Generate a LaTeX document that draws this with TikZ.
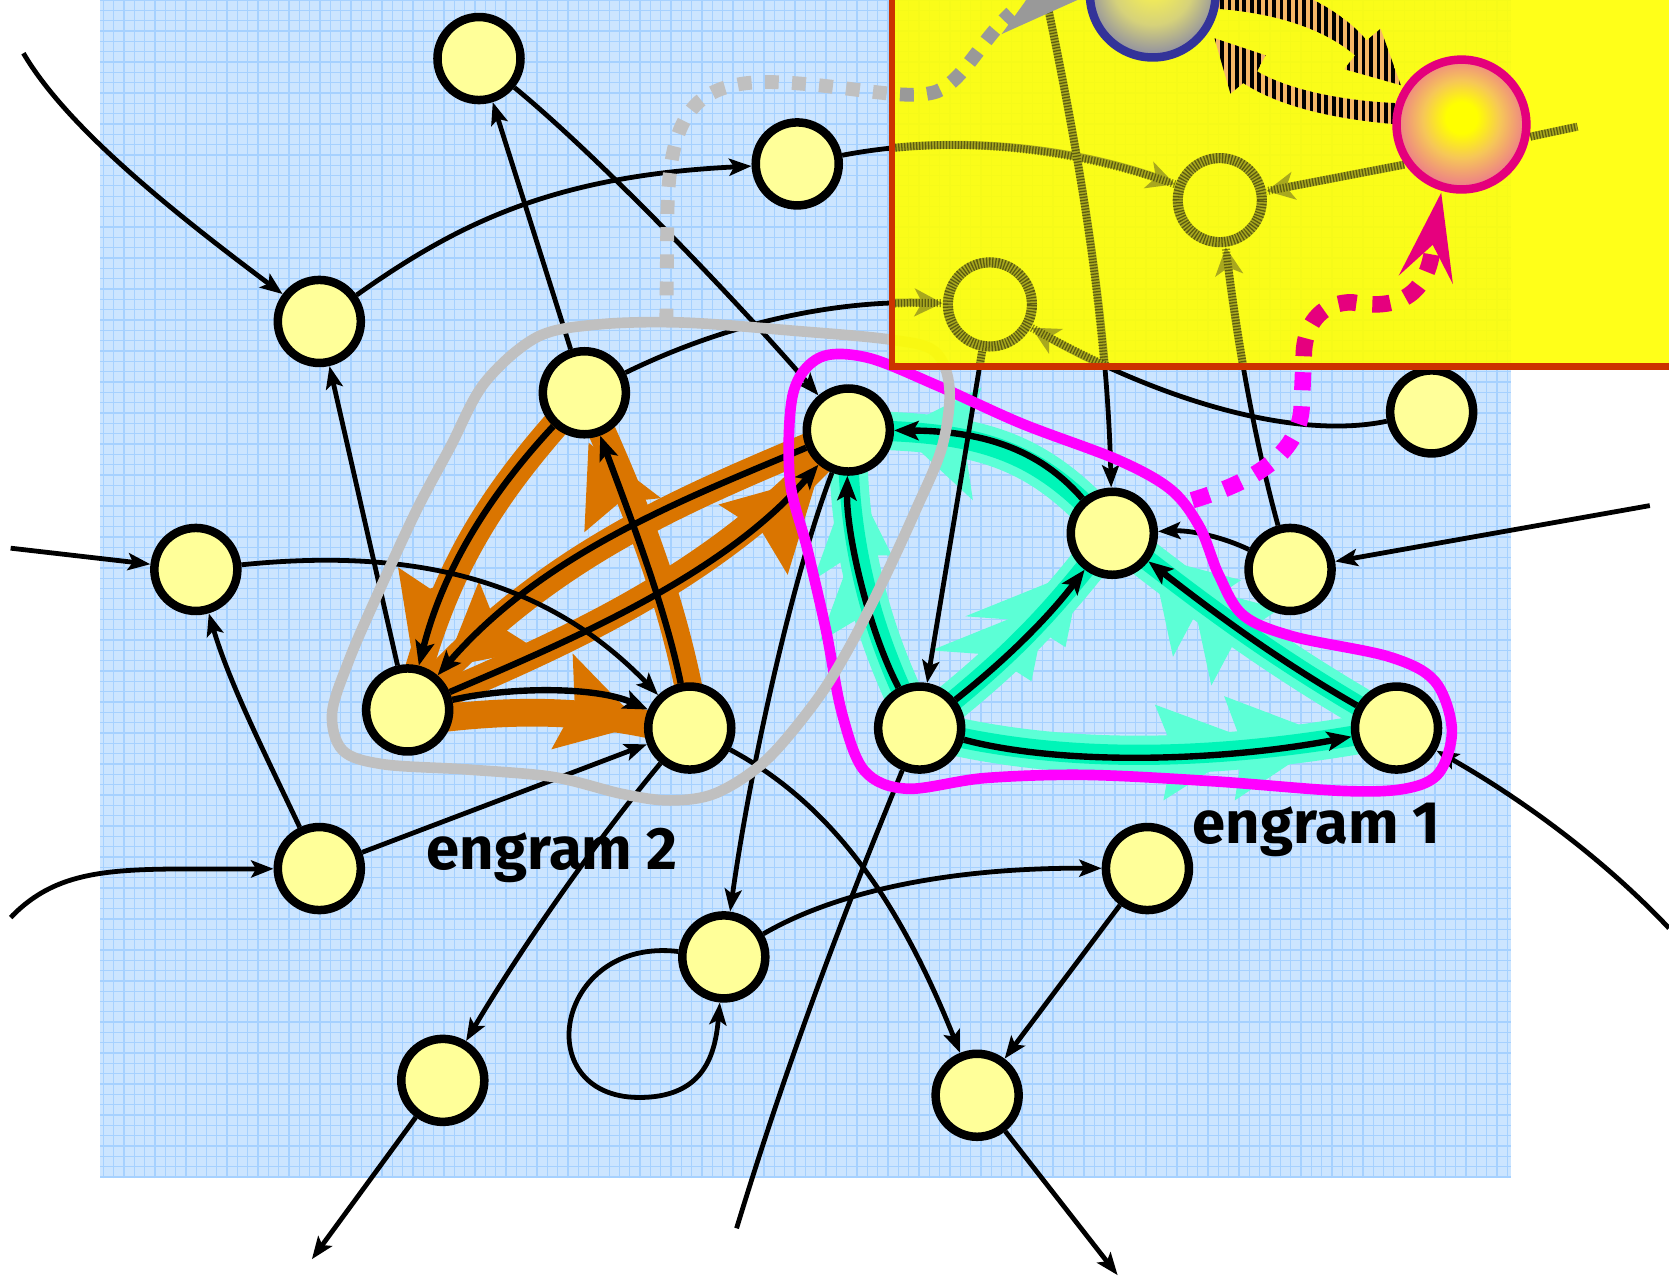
\documentclass[tikz,border=0pt]{standalone}
\usepackage{fontspec}
\newfontfamily\englabel{Fira Sans}
\usetikzlibrary{arrows.meta,patterns.meta}

\definecolor{bgblue}{HTML}{CCE5FF}
\definecolor{gridblue}{HTML}{A6D1FF}
\definecolor{cellY}{HTML}{FFFF99}
\definecolor{bandO}{HTML}{DA7500}
\definecolor{tealL}{HTML}{5CFFD6}
\definecolor{tealD}{HTML}{00F5B8}
\definecolor{loopM}{HTML}{FF00FF}
\definecolor{loopG}{HTML}{C0C0C0}
\definecolor{dashG}{HTML}{999999}
\definecolor{dashP}{HTML}{E6007E}
\definecolor{panelY}{HTML}{FFFF00}
\definecolor{panelR}{HTML}{CC3300}
\definecolor{fadeO}{HTML}{A8A81E}
\definecolor{stripeO}{HTML}{F5B767}
\definecolor{sphB}{HTML}{333399}
\definecolor{sphBm}{HTML}{8888A6}
\definecolor{sphBy}{HTML}{D6D27A}
\definecolor{sphY}{HTML}{F4EE55}
\definecolor{sphP}{HTML}{E4007C}
\definecolor{sphPm}{HTML}{EA6A96}
\definecolor{sphPy}{HTML}{F6C658}

\pgfdeclareradialshading{bluesph}{\pgfpoint{0bp}{6bp}}{color(0bp)=(sphY); color(5bp)=(sphY); color(16bp)=(sphBy); color(28bp)=(sphBm); color(38bp)=(sphB); color(50bp)=(sphB)}
\pgfdeclareradialshading{pinksph}{\pgfpoint{0bp}{3bp}}{color(0bp)=(panelY); color(6bp)=(panelY); color(15bp)=(sphPy); color(28bp)=(sphPm); color(40bp)=(sphP); color(50bp)=(sphP)}

\pgfdeclarelayer{back}
\pgfdeclarelayer{bands}
\pgfdeclarelayer{edges}
\pgfsetlayers{back,bands,edges,main}

\tikzset{
  neuron/.style={circle, draw=black, line width=0.8mm, fill=cellY, minimum size=7.8mm, inner sep=0pt},
  ghost/.style={circle, minimum size=8.8mm, inner sep=0pt},
  ax/.style={line width=0.45mm, -{Stealth[length=2.1mm,width=1.6mm,inset=0.45mm]}},
  eax/.style={line width=0.6mm, -{Stealth[length=2.3mm,width=1.8mm,inset=0.5mm]}},
  oband/.style={draw=bandO, line width=2.6mm},
  ohead/.style={fill=bandO},
  tbandL/.style={draw=tealL, line width=3.6mm},
  tbandD/.style={draw=tealD, line width=1.9mm},
  thead/.style={fill=tealL},
  fadedln/.style={line width=0.75mm, draw=fadeO, -{Stealth[length=2.6mm,width=2.6mm,inset=0.7mm]},
      postaction={draw=black, opacity=0.45, dash pattern=on 0.12mm off 0.16mm, arrows=-}},
  fadedring/.style={draw=fadeO, line width=0.95mm, postaction={draw=black, opacity=0.45, dash pattern=on 0.12mm off 0.16mm}},
  grayline/.style={line width=1.3mm, dash pattern=on 1.3mm off 1.25mm},
  pinkline/.style={line width=1.55mm, dash pattern=on 1.7mm off 1.5mm},
  stripes/.style={fill=stripeO, postaction={pattern={Lines[angle=90,distance=0.7mm,line width=0.34mm]}, pattern color=black}},
  loopline/.style={line width=1mm, line join=round},
  lbl/.style={font=\englabel\bfseries\fontsize{16}{18}\selectfont, anchor=base west, inner sep=0pt},
}

\begin{document}
\begin{tikzpicture}[x=0.1mm, y=-0.1mm]
\useasboundingbox (0,0) rectangle (1568,1200);

% ---- squared paper background ----
\begin{pgfonlayer}{back}
  \fill[white] (0,0) rectangle (1568,1200);
  \fill[bgblue] (94,0) rectangle (1420,1107);
  \draw[gridblue, line width=0.35pt, step=0.97mm] (94,0) grid (1420,1107);
\end{pgfonlayer}

% ---- neurons ----
\node[neuron] (n1)  at (450,55)   {};
\node[neuron] (n2)  at (749,154)  {};
\node[neuron] (n3)  at (300,302)  {};
\node[neuron] (n4)  at (549,369)  {};
\node[neuron] (n5)  at (797,404)  {};
\node[neuron] (n6)  at (1345,387) {};
\node[neuron] (n7)  at (184,535)  {};
\node[neuron] (n8)  at (1045,501) {};
\node[neuron] (n9)  at (1212,535) {};
\node[neuron] (n10) at (383,667)  {};
\node[neuron] (n11) at (648,684)  {};
\node[neuron] (n12) at (864,684)  {};
\node[neuron] (n13) at (1312,684) {};
\node[neuron] (n14) at (300,816)  {};
\node[neuron] (n15) at (1078,816) {};
\node[neuron] (n16) at (680,899)  {};
\node[neuron] (n17) at (416,1015) {};
\node[neuron] (n18) at (918,1029) {};

% cells of the magnified panel (drawn later, over the panel)
\node[ghost] (fn1) at (930,286) {};
\node[ghost] (fn2) at (1146,188) {};
\node[circle, minimum size=12.6mm, inner sep=0pt] (bs) at (1083,-5) {};
\node[circle, minimum size=13mm, inner sep=0pt] (ps) at (1373,117) {};

% free ends of axons
\coordinate (in1) at (22,50);
\coordinate (in2) at (10,515);
\coordinate (in3) at (10,862);
\coordinate (in4) at (1550,475);
\coordinate (in5) at (1568,872);
\coordinate (out1) at (293,1183);
\coordinate (out2) at (1050,1198);
\coordinate (out3) at (692,1154);
\coordinate (top1) at (982,-5);
\coordinate (pso) at (1482,119);
\coordinate (e1p) at (1120,470);
\coordinate (e2p) at (626,303);

% ---- engram highlight bands ----
\begin{pgfonlayer}{bands}
  % engram 2 (orange)
  \draw[oband] (n4.center) .. controls (455,470) and (415,540) .. (n10.center);
  \draw[oband] ([xshift=0.6mm]n11.center) .. controls (635,570) and (600,480) .. (n4.center);
  \draw[oband] (n5.center) .. controls (640,470) and (510,520) .. (n10.center);
  \draw[oband] (n10.center) .. controls (540,600) and (680,540) .. (n5.center);
  \draw[oband] ([yshift=-1.2mm]n10.center) .. controls (480,665) and (560,665) .. ([yshift=-0.6mm]n11.center);
  \fill[ohead] (388,620) -- (374,533) -- (404,553) -- (440,541) -- cycle;
  \fill[ohead] (553,416) -- (621,468) -- (582,472) -- (549,500) -- cycle;
  \fill[ohead] (418,627) -- (450,546) -- (466,586) -- (504,610) -- cycle;
  \fill[ohead] (768,448) -- (740,540) -- (716,500) -- (675,474) -- cycle;
  \fill[ohead] (603,681) -- (518,704) -- (540,664) -- (538,614) -- cycle;
  % engram 1 (teal)
  \draw[tbandL] (n12.center) .. controls (815,590) and (795,500) .. (n5.center);
  \draw[tbandL] (n8.center) .. controls (975,420) and (920,405) .. (n5.center);
  \draw[tbandL] (n12.center) .. controls (945,620) and (985,580) .. (n8.center);
  \draw[tbandL] (n13.center) .. controls (1200,620) and (1140,575) .. (n8.center);
  \draw[tbandL] (n12.center) .. controls (1000,720) and (1150,715) .. (n13.center);
  \fill[thead] (800,446) -- (838,522) -- (801,521) -- (764,545) -- cycle;
  \fill[thead] (806,505) -- (840,585) -- (805,582) -- (770,603) -- cycle;
  \fill[thead] (843,404) -- (922,364) -- (906,416) -- (914,470) -- cycle;
  \fill[thead] (1016,535) -- (1001,608) -- (962,583) -- (907,579) -- cycle;
  \fill[thead] (984,567) -- (969,640) -- (930,615) -- (875,611) -- cycle;
  \fill[thead] (1082,523) -- (1166,545) -- (1126,572) -- (1102,617) -- cycle;
  \fill[thead] (1118,550) -- (1202,572) -- (1162,599) -- (1138,644) -- cycle;
  \fill[thead] (1250,692) -- (1150,654) -- (1168,702) -- (1160,752) -- cycle;
  \fill[thead] (1180,697) -- (1085,662) -- (1102,704) -- (1093,752) -- cycle;
  \draw[tbandD] (n12.center) .. controls (815,590) and (795,500) .. (n5.center);
  \draw[tbandD] (n8.center) .. controls (975,420) and (920,405) .. (n5.center);
  \draw[tbandD] (n12.center) .. controls (945,620) and (985,580) .. (n8.center);
  \draw[tbandD] (n13.center) .. controls (1200,620) and (1140,575) .. (n8.center);
  \draw[tbandD] (n12.center) .. controls (1000,720) and (1150,715) .. (n13.center);
\end{pgfonlayer}

% ---- axons ----
\begin{pgfonlayer}{edges}
  \draw[ax] (in1) .. controls (60,115) and (150,190) .. (n3);
  \draw[ax] (n3) .. controls (430,210) and (520,165) .. (n2);
  \draw[ax] (n2) .. controls (900,125) and (1010,140) .. (fn2);
  \draw[ax] (n4) -- (n1);
  \draw[ax] (n1) .. controls (560,145) and (690,280) .. (n5);
  \draw[ax] (n4) .. controls (680,305) and (780,282) .. (fn1);
  \draw[ax] (n10) -- (n3);
  \draw[ax] (in2) -- (n7);
  \draw[ax] (n7) .. controls (380,515) and (510,540) .. (n11);
  \draw[ax] (n14) .. controls (245,700) and (215,640) .. (n7);
  \draw[ax] (in3) .. controls (60,810) and (120,817) .. (n14);
  \draw[ax] (n14) -- (n11);
  \draw[ax] (n11) .. controls (560,790) and (490,890) .. (n17);
  \draw[ax] (n17) -- (out1);
  \draw[ax] (n5) .. controls (745,540) and (705,720) .. (n16);
  \draw[line width=0.45mm] (n12) .. controls (800,840) and (745,980) .. (out3);
  \draw[ax] (n11) .. controls (790,760) and (850,860) .. (n18);
  \draw[ax] (n16) .. controls (790,835) and (900,815) .. (n15);
  \draw[ax] (n16) .. controls (520,880) and (495,1035) .. (605,1031) .. controls (662,1029) and (672,990) .. (n16);
  \draw[ax] (n15) -- (n18);
  \draw[ax] (n18) -- (out2);
  \draw[ax] (in4) -- (n9);
  \draw[ax] (in5) .. controls (1500,800) and (1420,745) .. (n13);
  \draw[ax] (fn1) -- (n12);
  \draw[ax] (top1) .. controls (1015,150) and (1040,300) .. (n8);
  \draw[ax] (n9) .. controls (1175,400) and (1160,300) .. (fn2);
  \draw[ax] (n6) .. controls (1210,415) and (1080,370) .. (fn1);
  \draw[ax] (n9) .. controls (1150,505) and (1120,498) .. (n8);
  % engram 2 connections
  \draw[eax] (n4) .. controls (455,470) and (415,540) .. (n10);
  \draw[eax] (n11) .. controls (625,570) and (590,480) .. (n4);
  \draw[eax] (n5) .. controls (640,470) and (510,520) .. (n10);
  \draw[eax] (n10) .. controls (540,600) and (680,540) .. (n5);
  \draw[eax] (n10) .. controls (480,645) and (560,645) .. (n11);
  % engram 1 connections
  \draw[eax] (n12) .. controls (815,590) and (795,500) .. (n5);
  \draw[eax] (n8) .. controls (975,420) and (920,405) .. (n5);
  \draw[eax] (n12) .. controls (945,620) and (985,580) .. (n8);
  \draw[eax] (n13) .. controls (1200,620) and (1140,575) .. (n8);
  \draw[eax] (n12) .. controls (1000,720) and (1150,715) .. (n13);
\end{pgfonlayer}

% ---- engram outlines ----
\draw[loopM, loopline] plot[smooth cycle, tension=0.55] coordinates {
  (742,450) (745,370) (770,336) (815,336) (880,362) (960,398) (1050,432)
  (1100,460) (1127,495) (1145,540) (1168,578) (1215,598) (1305,617) (1348,640)
  (1364,685) (1352,726) (1320,741) (1260,743) (1140,734) (1020,728) (925,731)
  (852,741) (812,724) (791,670) (776,592) (758,514)};
\draw[loopG, loopline] plot[smooth cycle, tension=0.55] coordinates {
  (504,317) (560,305) (641,303) (749,311) (836,319) (878,330) (892,365)
  (885,420) (860,480) (830,545) (798,608) (767,658) (720,714) (673,745)
  (630,752) (585,746) (520,730) (440,723) (360,718) (322,705) (312,670)
  (328,620) (354,560) (391,480) (423,420) (455,360)};

% ---- recall paths (outside the panel) ----
\def\graypath{(e2p) -- (627,200) .. controls (629,110) and (650,78) .. (720,77) .. controls (790,78) and (850,96) .. (880,86) .. controls (905,76) and (920,40) .. (950,12)}
\def\pinkpath{(e1p) .. controls (1170,455) and (1222,430) .. (1223,380) -- (1225,330) .. controls (1227,300) and (1245,284) .. (1270,284) .. controls (1305,290) and (1340,285) .. (1346,232)}
\draw[loopG, grayline] \graypath;
\draw[loopM, pinkline] \pinkpath;

% ---- magnified panel ----
\fill[panelY, opacity=0.9] (838,-20) rectangle (1600,344);
\begin{scope}
  \clip (841,-20) rectangle (1600,341);
  \draw[fadedln] (n2) .. controls (900,125) and (1010,140) .. (fn2);
  \draw[fadedln] (n4) .. controls (680,305) and (780,282) .. (fn1);
  \draw[fadedln] (fn1) -- (n12);
  \draw[fadedln] (top1) .. controls (1015,150) and (1040,300) .. (n8);
  \draw[fadedln] (n9) .. controls (1175,400) and (1160,300) .. (fn2);
  \draw[fadedln] (n6) .. controls (1210,415) and (1080,370) .. (fn1);
  \draw[fadedln] (ps.215) -- (fn2);
  \draw[fadedln, arrows=-] (ps.-10) -- (pso);
  \draw[fadedring] (fn1.center) circle[radius=3.95mm];
  \draw[fadedring] (fn2.center) circle[radius=3.95mm];
  \draw[dashG, grayline] \graypath;
  \draw[dashP, pinkline] \pinkpath;
\end{scope}
% arrow heads of the recall paths
\fill[dashG] (941,32) -- (1030,-8) -- (990,-40) -- (962,3) -- cycle;
\fill[dashP] (1354,181) -- (1365,267) -- (1346,230) -- (1314,259) -- cycle;

% striped interaction arrows between the two cells
\path[stripes] (1140,-20) -- (1200,-14) .. controls (1232,-4) and (1265,15) .. (1284,38)
  -- (1297,27) -- (1316,80) -- (1263,65) -- (1273,52)
  .. controls (1245,28) and (1200,12) .. (1140,8) -- cycle;
\path[stripes] (1141,36) -- (1189,52) -- (1181,67) .. controls (1210,84) and (1260,95) .. (1315,97)
  -- (1315,117) .. controls (1250,112) and (1200,99) .. (1168,78) -- (1156,88) -- cycle;

% the two highlighted cells
\shade[shading=bluesph] (bs.center) circle[radius=5.9mm];
\draw[sphB, line width=0.8mm] (bs.center) circle[radius=5.9mm];
\shade[shading=pinksph] (ps.center) circle[radius=6.1mm];
\draw[sphP, line width=0.8mm] (ps.center) circle[radius=6.1mm];

% panel frame
\draw[panelR, line width=0.65mm] (838,-20) -- (838,344) -- (1600,344);

% ---- labels ----
\node[lbl] (lab2) at (400,817) {engram 2};
\node[lbl] (lab1) at (1120,792) {engram 1};
\end{tikzpicture}
\end{document}
